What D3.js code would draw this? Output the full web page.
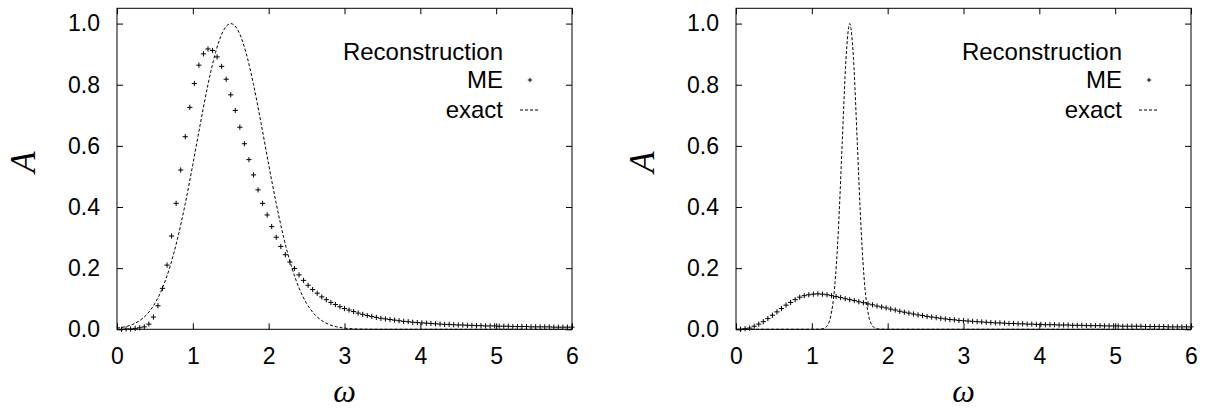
<!DOCTYPE html>
<html>
<head>
<meta charset="utf-8">
<script src="https://cdn.jsdelivr.net/npm/d3@7/dist/d3.min.js"></script>
<style>
  html, body { margin: 0; padding: 0; background: #fff; }
  svg { display: block; }
  .tick text { font-family: "Liberation Sans", Arial, sans-serif; font-size: 23px; fill: #000; }
  .tick line { stroke: #000; stroke-width: 1; }
</style>
</head>
<body>
<svg id="chart" width="1213" height="410"></svg>
<script>
// Frequency grid of the reconstructed spectra
const omega = [
  0.06,0.12,0.18,0.24,0.30,0.36,0.42,0.48,0.54,0.60,
  0.66,0.72,0.78,0.84,0.90,0.96,1.02,1.08,1.14,1.20,
  1.26,1.32,1.38,1.44,1.50,1.56,1.62,1.68,1.74,1.80,
  1.86,1.92,1.98,2.04,2.10,2.16,2.22,2.28,2.34,2.40,
  2.46,2.52,2.58,2.64,2.70,2.76,2.82,2.88,2.94,3.00,
  3.06,3.12,3.18,3.24,3.30,3.36,3.42,3.48,3.54,3.60,
  3.66,3.72,3.78,3.84,3.90,3.96,4.02,4.08,4.14,4.20,
  4.26,4.32,4.38,4.44,4.50,4.56,4.62,4.68,4.74,4.80,
  4.86,4.92,4.98,5.04,5.10,5.16,5.22,5.28,5.34,5.40,
  5.46,5.52,5.58,5.64,5.70,5.76,5.82,5.88,5.94,6.00
];

// Maximum-entropy reconstruction, broad peak
const meBroad = [
  0.000,0.001,0.001,0.003,0.005,0.008,0.017,0.040,0.077,0.134,
  0.210,0.305,0.412,0.521,0.630,0.726,0.804,0.864,0.901,0.917,
  0.912,0.891,0.860,0.818,0.767,0.716,0.661,0.607,0.555,0.505,
  0.456,0.412,0.374,0.336,0.301,0.271,0.244,0.220,0.199,0.178,
  0.160,0.144,0.130,0.118,0.106,0.097,0.088,0.081,0.074,0.068,
  0.063,0.058,0.053,0.049,0.045,0.042,0.039,0.036,0.034,0.032,
  0.030,0.028,0.026,0.025,0.023,0.022,0.021,0.020,0.019,0.018,
  0.017,0.016,0.016,0.015,0.014,0.014,0.013,0.013,0.012,0.012,
  0.011,0.011,0.011,0.010,0.010,0.010,0.009,0.009,0.009,0.009,
  0.008,0.008,0.008,0.008,0.008,0.007,0.007,0.007,0.007,0.007
];

// Maximum-entropy reconstruction, narrow peak
const meNarrow = [
  0.000,0.002,0.004,0.010,0.017,0.025,0.035,0.046,0.057,0.068,
  0.079,0.088,0.097,0.105,0.110,0.113,0.115,0.116,0.115,0.113,
  0.110,0.107,0.104,0.100,0.097,0.094,0.090,0.087,0.083,0.080,
  0.076,0.073,0.070,0.066,0.063,0.059,0.056,0.053,0.050,0.047,
  0.045,0.042,0.040,0.038,0.036,0.034,0.032,0.031,0.029,0.028,
  0.027,0.026,0.025,0.024,0.023,0.022,0.021,0.021,0.020,0.019,
  0.019,0.018,0.018,0.017,0.017,0.016,0.016,0.015,0.015,0.015,
  0.014,0.014,0.014,0.013,0.013,0.013,0.012,0.012,0.012,0.012,
  0.011,0.011,0.011,0.011,0.010,0.010,0.010,0.010,0.010,0.009,
  0.009,0.009,0.009,0.009,0.008,0.008,0.008,0.008,0.008,0.008
];

// Exact spectrum, broad peak
const exactBroadW = [
  0.0,0.1,0.2,0.3,0.4,0.5,0.6,0.7,0.8,0.9,1.0,1.1,1.2,1.3,1.4,1.5,
  1.6,1.7,1.8,1.9,2.0,2.1,2.2,2.3,2.4,2.5,2.6,2.7,2.8,2.9,3.0,3.1,3.2,3.3,3.4,6.0
];
const exactBroadA = [
  0.0039,0.0079,0.0154,0.0286,0.0504,0.0847,0.1353,0.2059,0.2982,0.4111,0.5394,0.6737,0.8007,0.9060,0.9756,1.0,
  0.9756,0.9060,0.8007,0.6737,0.5394,0.4111,0.2982,0.2059,0.1353,0.0847,0.0504,0.0286,0.0154,0.0079,0.0039,0.0018,0.0008,0.0003,0.0,0.0
];

// Exact spectrum, narrow peak
const exactNarrowW = [
  0.0,1.0,1.1,1.15,1.2,1.25,1.3,1.35,1.4,1.45,1.5,1.55,1.6,1.65,1.7,1.75,1.8,1.85,1.9,2.0,6.0
];
const exactNarrowA = [
  0.0,0.0,0.0003,0.0022,0.0111,0.0439,0.1353,0.3247,0.6065,0.8825,1.0,0.8825,0.6065,0.3247,0.1353,0.0439,0.0111,0.0022,0.0003,0.0,0.0
];

const xTicks = [0, 1, 2, 3, 4, 5, 6];
const yTicks = [0.0, 0.2, 0.4, 0.6, 0.8, 1.0];
const legendTitle = "Reconstruction";
const legendME = "ME";
const legendExact = "exact";

const svg = d3.select("#chart");

const panelW = 455, plotTop = 8.3, plotBottom = 329.3;

function drawPanel(left, meVals, exW, exA) {
  const x = d3.scaleLinear().domain([0, 6]).range([left, left + panelW]);
  const y = d3.scaleLinear().domain([0, 1.05]).range([plotBottom, plotTop]);
  const g = svg.append("g");

  // exact curve (dashed)
  const exact = exW.map((w, i) => [w, exA[i]]);
  g.append("path")
    .datum(exact)
    .attr("fill", "none")
    .attr("stroke", "#000")
    .attr("stroke-width", 1)
    .attr("stroke-dasharray", "3,2")
    .attr("d", d3.line().x(d => x(d[0])).y(d => y(d[1])).curve(d3.curveMonotoneX));

  // reconstruction markers
  const me = omega.map((w, i) => [w, meVals[i]]);
  const s = 2.6;
  g.append("g").selectAll("path")
    .data(me)
    .join("path")
    .attr("fill", "none")
    .attr("stroke", "#000")
    .attr("stroke-width", 1)
    .attr("d", d => {
      const cx = x(d[0]), cy = y(d[1]);
      return `M${cx - s},${cy}H${cx + s}M${cx},${cy - s}V${cy + s}`;
    });

  // axes with inward ticks
  const ax = (gen) => gen.tickSizeInner(-6).tickSizeOuter(0);
  g.append("g").attr("transform", `translate(0,${plotBottom})`)
    .call(ax(d3.axisBottom(x).tickValues(xTicks).tickFormat(d3.format("d")).tickPadding(18)))
    .call(a => a.select(".domain").remove());
  g.append("g").attr("transform", `translate(0,${plotTop})`)
    .call(ax(d3.axisTop(x).tickValues(xTicks).tickFormat("")))
    .call(a => a.select(".domain").remove());
  g.append("g").attr("transform", `translate(${left},0)`)
    .call(ax(d3.axisLeft(y).tickValues(yTicks).tickFormat(d3.format(".1f")).tickPadding(17)))
    .call(a => a.select(".domain").remove());
  g.append("g").attr("transform", `translate(${left + panelW},0)`)
    .call(ax(d3.axisRight(y).tickValues(yTicks).tickFormat("")))
    .call(a => a.select(".domain").remove());

  // frame
  g.append("rect")
    .attr("x", left).attr("y", plotTop)
    .attr("width", panelW).attr("height", plotBottom - plotTop)
    .attr("fill", "none").attr("stroke", "#000").attr("stroke-width", 1);

  // axis titles
  g.append("text")
    .attr("x", left + panelW / 2).attr("y", 402)
    .attr("text-anchor", "middle")
    .attr("font-family", "'Liberation Serif', 'DejaVu Serif', serif")
    .attr("font-style", "italic")
    .attr("font-size", 32)
    .text("ω");
  g.append("text")
    .attr("transform", `translate(${left - 94},${162}) rotate(-90)`)
    .attr("text-anchor", "middle")
    .attr("dy", "0.35em")
    .attr("font-family", "'Liberation Serif', 'DejaVu Serif', serif")
    .attr("font-style", "italic")
    .attr("font-size", 35)
    .text("A");

  // legend
  const lx = left + 386;
  const font = "'Liberation Sans', Arial, sans-serif";
  g.append("text").attr("x", lx).attr("y", 52).attr("dy", "0.35em")
    .attr("text-anchor", "end").attr("font-family", font).attr("font-size", 24).text(legendTitle);
  g.append("text").attr("x", lx).attr("y", 80).attr("dy", "0.35em")
    .attr("text-anchor", "end").attr("font-family", font).attr("font-size", 24).text(legendME);
  g.append("text").attr("x", lx).attr("y", 110).attr("dy", "0.35em")
    .attr("text-anchor", "end").attr("font-family", font).attr("font-size", 24).text(legendExact);
  const px = lx + 27, py = 80, ps = 2.2;
  g.append("path").attr("stroke", "#000").attr("stroke-width", 1).attr("fill", "none")
    .attr("d", `M${px - ps},${py}H${px + ps}M${px},${py - ps}V${py + ps}`);
  g.append("line").attr("x1", lx + 17).attr("x2", lx + 37).attr("y1", 110).attr("y2", 110)
    .attr("stroke", "#000").attr("stroke-width", 1).attr("stroke-dasharray", "3,2");
}

drawPanel(117, meBroad, exactBroadW, exactBroadA);
drawPanel(736, meNarrow, exactNarrowW, exactNarrowA);
</script>
</body>
</html>
